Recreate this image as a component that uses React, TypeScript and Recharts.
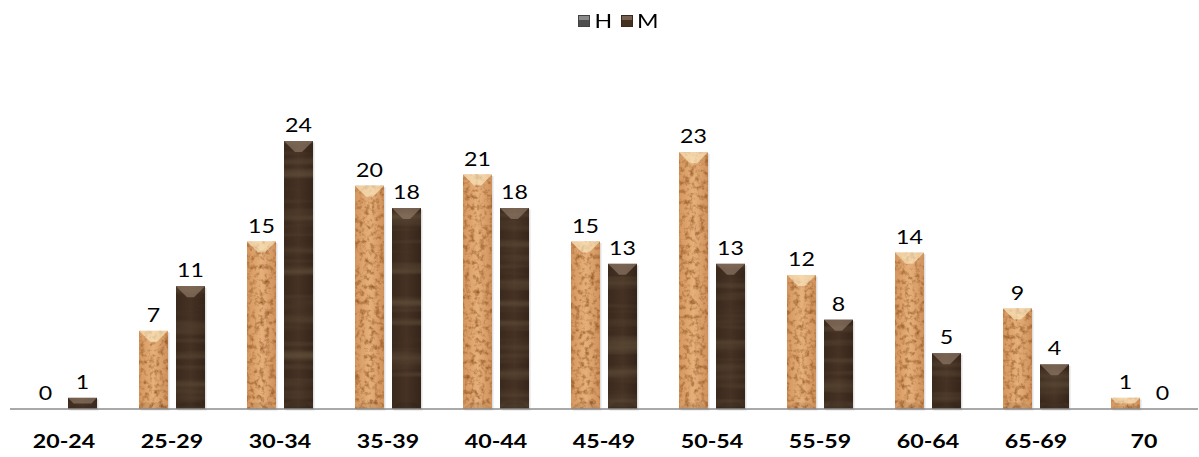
import { Bar, BarChart, LabelList, XAxis, YAxis } from "recharts";

const AGE_GROUPS = ["20-24", "25-29", "30-34", "35-39", "40-44", "45-49", "50-54", "55-59", "60-64", "65-69", "70"];
const H_VALUES = [0, 7, 15, 20, 21, 15, 23, 12, 14, 9, 1];
const M_VALUES = [1, 11, 24, 18, 18, 13, 13, 8, 5, 4, 0];

const FONT = "Lato, 'Open Sans', sans-serif";
// the source text is drawn wide, so stretch it a little
const STRETCH = 1.22;

const data = AGE_GROUPS.map((g, i) => ({ group: g, H: H_VALUES[i], M: M_VALUES[i] }));

function BevelBar(props: any) {
  const { x, y, width, height, texture, bevel } = props;
  if (!height || height <= 0) return null;
  const d = Math.min(11, height / 2, width / 2);
  return (
    <g>
      <rect x={x + 1.5} y={y + 1.5} width={width} height={height} fill="#000" fillOpacity={0.12} />
      <rect x={x} y={y} width={width} height={height} fill={`url(#${texture})`} />
      <rect x={x} y={y} width={width} height={height} fill="#000" filter={`url(#${texture}-noise)`} />
      <polygon
        points={`${x},${y} ${x + width},${y} ${x + width - d},${y + d} ${x + d},${y + d}`}
        fill={bevel}
        fillOpacity={0.6}
      />
      <polygon
        points={`${x},${y + height} ${x + width},${y + height} ${x + width - d * 0.6},${y + height - d * 0.6} ${x + d * 0.6},${y + height - d * 0.6}`}
        fill="#000000"
        fillOpacity={0.08}
      />
    </g>
  );
}

function ValueLabel(props: any) {
  const { x, y, width, value } = props;
  const cx = x + width / 2;
  return (
    <text
      transform={`translate(${cx},${y - 9}) scale(${STRETCH},1)`}
      textAnchor="middle"
      fontFamily={FONT}
      fontSize={19}
      fill="#000"
    >
      {value}
    </text>
  );
}

function AgeTick(props: any) {
  const { x, y, payload } = props;
  return (
    <text
      transform={`translate(${x},${y + 31}) scale(${STRETCH},1)`}
      textAnchor="middle"
      fontFamily={FONT}
      fontWeight="bold"
      fontSize={19}
      fill="#000"
    >
      {payload.value}
    </text>
  );
}

function TopLegend() {
  const item = (label: string, color: string, top: string) => (
    <span style={{ display: "flex", alignItems: "center", gap: 6 }}>
      <span
        style={{
          width: 10,
          height: 10,
          background: color,
          boxShadow: `inset 0 4px 0 ${top}`,
          border: "1px solid rgba(0,0,0,0.15)",
        }}
      />
      <span style={{ display: "inline-block", transform: `scaleX(${STRETCH})` }}>{label}</span>
    </span>
  );
  return (
    <div
      style={{
        position: "absolute",
        top: 9,
        left: 0,
        width: 1199,
        display: "flex",
        justifyContent: "center",
        gap: 11,
        fontFamily: FONT,
        fontSize: 19,
        color: "#000",
        paddingLeft: 36,
        boxSizing: "border-box",
      }}
    >
      {item("H", "#4e4e4e", "#8a8a8a")}
      {item("M", "#45311f", "#786050")}
    </div>
  );
}

export default function App() {
  return (
    <div style={{ position: "absolute", left: 0, top: 0, width: 1199, height: 457, background: "#fff" }}>
      <svg width={0} height={0} style={{ position: "absolute" }}>
        <defs>
          <linearGradient id="cork" x1="0" y1="0" x2="1" y2="0">
            <stop offset="0%" stopColor="#d4965e" />
            <stop offset="50%" stopColor="#e6b07a" />
            <stop offset="100%" stopColor="#cf925c" />
          </linearGradient>
          <filter id="cork-noise" x="0" y="0" width="1" height="1" colorInterpolationFilters="sRGB">
            <feTurbulence type="fractalNoise" baseFrequency="0.2" numOctaves={3} seed={3} result="n" />
            <feColorMatrix
              in="n"
              type="matrix"
              values="0 0 0 0 0.6  0 0 0 0 0.36  0 0 0 0 0.17  2.2 0 0 0 -1.0"
              result="spots"
            />
            <feComposite in="spots" in2="SourceGraphic" operator="in" />
          </filter>
          <linearGradient id="wood" x1="0" y1="0" x2="1" y2="0">
            <stop offset="0%" stopColor="#3a291d" />
            <stop offset="50%" stopColor="#463224" />
            <stop offset="100%" stopColor="#36251a" />
          </linearGradient>
          <filter id="wood-noise" x="0" y="0" width="1" height="1" colorInterpolationFilters="sRGB">
            <feTurbulence type="fractalNoise" baseFrequency="0.004 0.1" numOctaves={2} seed={7} result="n" />
            <feColorMatrix
              in="n"
              type="matrix"
              values="0 0 0 0 0.42  0 0 0 0 0.35  0 0 0 0 0.26  1.4 0 0 0 -0.6"
              result="grain"
            />
            <feComposite in="grain" in2="SourceGraphic" operator="in" />
          </filter>
        </defs>
      </svg>
      <TopLegend />
      <div style={{ position: "absolute", left: 0, top: 0 }}>
        <BarChart
          width={1199}
          height={457}
          data={data}
          margin={{ top: 74, right: 1, bottom: 0, left: 10 }}
          barGap={8}
          barCategoryGap={21}
        >
          <XAxis
            dataKey="group"
            height={48}
            tickLine={false}
            axisLine={{ stroke: "#8c8c8c", strokeWidth: 1.5 }}
            tick={<AgeTick />}
            interval={0}
          />
          <YAxis hide domain={[0, 30]} />
          <Bar dataKey="H" barSize={29} isAnimationActive={false} shape={<BevelBar texture="cork" bevel="#fff2cc" />}>
            <LabelList dataKey="H" content={<ValueLabel />} />
          </Bar>
          <Bar dataKey="M" barSize={29} isAnimationActive={false} shape={<BevelBar texture="wood" bevel="#9a8270" />}>
            <LabelList dataKey="M" content={<ValueLabel />} />
          </Bar>
        </BarChart>
      </div>
    </div>
  );
}
